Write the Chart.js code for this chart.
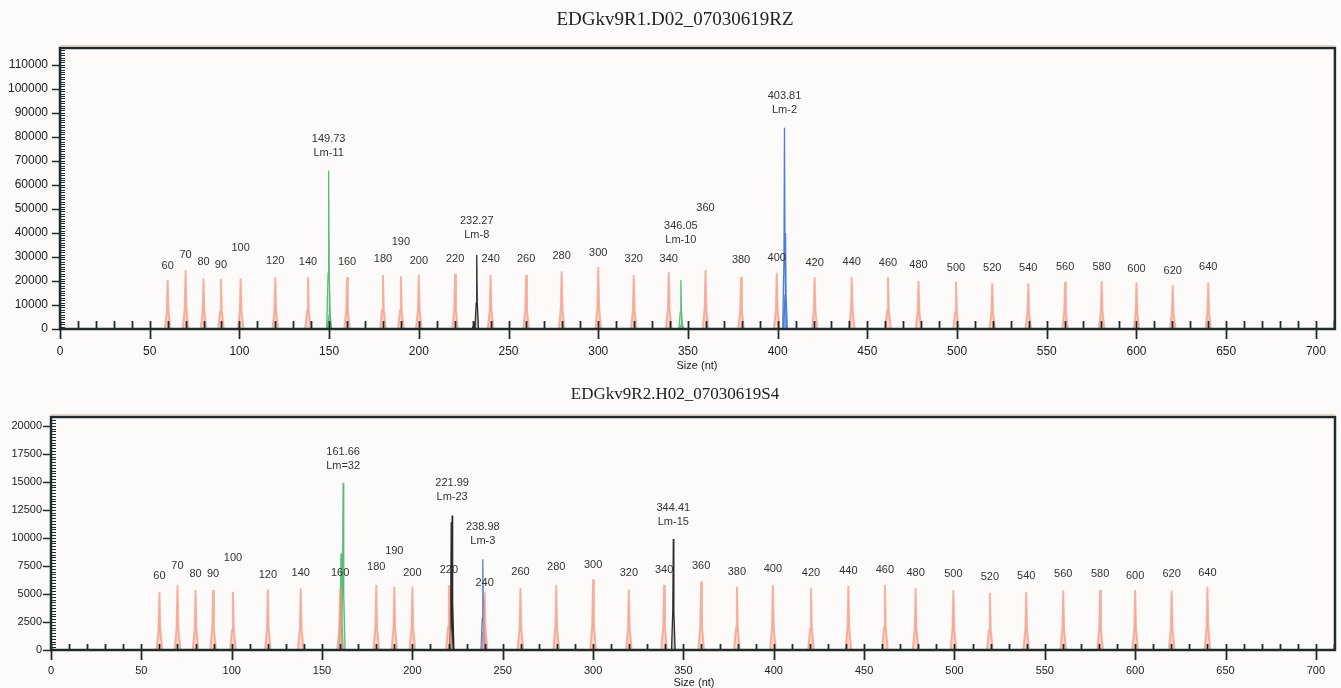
<!DOCTYPE html>
<html>
<head>
<meta charset="utf-8">
<script src="https://cdn.jsdelivr.net/npm/chart.js@4.4.0/dist/chart.umd.min.js"></script>
<style>
  html, body { margin: 0; padding: 0; background: #fdfbf9; }
  #wrap { position: relative; width: 1341px; height: 688px; }
  canvas { position: absolute; left: 0; }
</style>
</head>
<body>
<div id="wrap">
  <canvas id="run1" width="1341" height="375" style="top:0"></canvas>
  <canvas id="run2" width="1341" height="313" style="top:375px"></canvas>
</div>
<script>
// size standard peaks (orange), positions in nt
var stdSizes  = [60, 70, 80, 89.7, 100.7, 120, 138.2, 160, 180, 190, 200, 220.2, 240, 259.8, 279.6, 300, 319.8, 339.3, 359.8, 379.6, 399.5, 420.6, 441.3, 461.5, 478.5, 499.4, 519.6, 539.7, 560.2, 580.6, 600, 620.2, 640];
var stdLabels = ['60', '70', '80', '90', '100', '120', '140', '160', '180', '190', '200', '220', '240', '260', '280', '300', '320', '340', '360', '380', '400', '420', '440', '460', '480', '500', '520', '540', '560', '580', '600', '620', '640'];

// axis tick labels
var xTicks = [0, 50, 100, 150, 200, 250, 300, 350, 400, 450, 500, 550, 600, 650, 700];
var y1Ticks = [0, 10000, 20000, 30000, 40000, 50000, 60000, 70000, 80000, 90000, 100000, 110000];
var y2Ticks = [0, 2500, 5000, 7500, 10000, 12500, 15000, 17500, 20000];

// run 1 (EDGkv9R1.D02_07030619RZ)
var std1Heights = [20400, 24600, 21000, 20800, 21000, 21600, 21600, 21600, 22500, 22000, 22500, 23000, 22500, 22500, 24000, 25800, 22500, 23700, 24600, 21600, 23300, 21600, 21600, 21600, 20000, 19700, 19000, 19000, 19700, 20000, 19300, 18300, 19300];
var std1LabelY  = [26250, 30800, 27900, 26700, 33750, 28300, 27900, 27900, 29200, 36250, 28300, 29200, 29200, 29200, 30400, 31700, 29200, 29200, 50400, 28750, 29600, 27500, 27900, 27500, 26700, 25400, 25400, 25400, 25800, 25800, 25000, 24200, 25800];
var green1Sizes = [149.73, 150.3, 346.05, 346.6];
var green1Heights = [66000, 16000, 20400, 5000];
var black1Sizes = [230.6, 232.27];
var black1Heights = [3000, 30800];
var blue1Sizes = [403.81, 404.4];
var blue1Heights = [83800, 40000];
var call1Sizes = [149.73, 232.27, 346.05, 403.81];
var call1Names = ['Lm-11', 'Lm-8', 'Lm-10', 'Lm-2'];
var call1LabelY = [73300, 39200, 37100, 91250];

// run 2 (EDGkv9R2.H02_07030619S4)
var std2Heights = [5200, 5800, 5360, 5360, 5200, 5400, 5500, 5500, 5800, 5650, 5650, 5800, 5200, 5500, 5800, 6300, 5400, 5800, 6100, 5650, 5800, 5500, 5700, 5800, 5500, 5360, 5100, 5200, 5300, 5360, 5360, 5300, 5650];
var std2LabelY  = [6600, 7500, 6800, 6800, 8200, 6700, 6900, 6900, 7400, 8800, 6900, 7100, 6000, 7000, 7400, 7600, 6900, 7100, 7500, 7000, 7200, 6900, 7050, 7100, 6900, 6800, 6500, 6600, 6800, 6800, 6600, 6800, 6900];
var green2Sizes = [160.5, 161.66];
var green2Heights = [8600, 14900];
var black2Sizes = [221.5, 221.99, 344.41];
var black2Heights = [11400, 12000, 9900];
var blue2Sizes = [238.98, 239.5];
var blue2Heights = [8100, 4500];
var call2Sizes = [161.66, 221.99, 238.98, 344.41];
var call2Names = ['Lm=32', 'Lm-23', 'Lm-3', 'Lm-15'];
var call2LabelY = [16430, 13660, 9730, 11430];

var SANS = '"Liberation Sans", Arial, sans-serif';
var SERIF = '"Liberation Serif", "Times New Roman", serif';

// turn (size, height) pairs into peak outlines, one segment per peak
function peakPoints(sizes, heights, hw) {
  var pts = [];
  for (var i = 0; i < sizes.length; i++) {
    var s = sizes[i], h = heights[i];
    pts.push({x: s - hw, y: 0});
    pts.push({x: s - hw * 0.3, y: h * 0.35});
    pts.push({x: s, y: h});
    pts.push({x: s + hw * 0.3, y: h * 0.35});
    pts.push({x: s + hw, y: 0});
    pts.push({x: s + hw, y: null});
  }
  return pts;
}

function peakSet(pts, line, fill, width) {
  return {
    data: pts, borderColor: line, backgroundColor: fill, borderWidth: width,
    fill: 'origin', pointRadius: 0, tension: 0, spanGaps: false
  };
}

// frame, tick marks and all annotation text
var electroPlugin = {
  id: 'electro',
  afterDatasetsDraw: function(chart, args, o) {
    var ctx = chart.ctx, a = chart.chartArea, xs = chart.scales.x, ys = chart.scales.y;
    ctx.save();

    // peak size labels
    ctx.fillStyle = '#333';
    ctx.textAlign = 'center';
    ctx.textBaseline = 'middle';
    ctx.font = o.labelFont + 'px ' + SANS;
    for (var i = 0; i < stdSizes.length; i++) {
      ctx.fillText(stdLabels[i], xs.getPixelForValue(stdSizes[i]), ys.getPixelForValue(o.stdLabelY[i]));
    }
    for (var j = 0; j < o.callSizes.length; j++) {
      var cx = xs.getPixelForValue(o.callSizes[j]);
      var cy = ys.getPixelForValue(o.callLabelY[j]);
      ctx.fillText(o.callSizes[j].toFixed(2), cx, cy - o.lineGap);
      ctx.fillText(o.callNames[j], cx, cy);
    }

    // frame
    ctx.strokeStyle = 'rgba(240,150,120,0.45)';
    ctx.lineWidth = 1;
    ctx.beginPath();
    ctx.moveTo(a.left, a.top - 2.5); ctx.lineTo(a.right, a.top - 2.5);
    ctx.stroke();
    ctx.strokeStyle = '#1f2c2f';
    ctx.lineWidth = 2.5;
    ctx.beginPath();
    ctx.moveTo(a.left, a.bottom); ctx.lineTo(a.left, a.top);
    ctx.lineTo(a.right, a.top); ctx.lineTo(a.right, a.bottom);
    ctx.closePath();
    ctx.stroke();

    // x ticks: minor every 10 above the axis, major every 50 across it
    ctx.lineWidth = 1.8;
    ctx.beginPath();
    for (var k = 0; k * 10 <= xs.max; k++) {
      var px = Math.round(xs.getPixelForValue(k * 10)) + 0.5;
      ctx.moveTo(px, a.bottom - o.tickUp);
      ctx.lineTo(px, k % 5 === 0 ? a.bottom + o.tickDown : a.bottom);
    }
    ctx.stroke();

    // y ticks: major outward, dense minor inward
    ctx.lineWidth = 1.5;
    ctx.beginPath();
    ys.ticks.forEach(function(t) {
      var py = Math.round(ys.getPixelForValue(t.value)) + 0.5;
      ctx.moveTo(a.left - o.yTickOut, py); ctx.lineTo(a.left, py);
    });
    ctx.stroke();
    ctx.lineWidth = 1;
    ctx.beginPath();
    for (var n = 0; n * o.yMinor <= ys.max; n++) {
      var qy = Math.round(ys.getPixelForValue(n * o.yMinor)) + 0.5;
      ctx.moveTo(a.left, qy); ctx.lineTo(a.left + 5, qy);
    }
    ctx.stroke();

    // titles
    ctx.fillStyle = '#222';
    ctx.font = o.titleSize + 'px ' + SERIF;
    ctx.fillText(o.title, o.titleX, o.titleY);
    ctx.font = '11px ' + SANS;
    ctx.fillText('Size (nt)', o.axisTitleX, o.axisTitleY);
    ctx.restore();
  }
};

function makePanel(id, p) {
  var datasets = [
    peakSet(peakPoints(stdSizes, p.stdHeights, 1.6), 'rgba(244,150,125,0.7)', 'rgba(247,178,155,0.5)', 2),
    peakSet(peakPoints(p.greenSizes, p.greenHeights, 1.1), 'rgba(80,185,115,0.95)', 'rgba(120,205,140,0.35)', 1.3),
    peakSet(peakPoints(p.blackSizes, p.blackHeights, 1.0), 'rgba(35,35,35,0.95)', 'rgba(60,60,60,0.3)', 1.3),
    peakSet(peakPoints(p.blueSizes, p.blueHeights, 1.0), 'rgba(70,120,215,0.95)', 'rgba(110,150,225,0.35)', 1.3)
  ];
  return new Chart(document.getElementById(id), {
    type: 'line',
    data: { datasets: datasets },
    options: {
      responsive: false,
      animation: false,
      layout: { padding: { top: p.top, right: 1341 - p.right, left: 0, bottom: 0 } },
      plugins: {
        legend: { display: false },
        tooltip: { enabled: false },
        electro: {
          title: p.title, titleSize: p.titleSize, titleX: 675, titleY: 20,
          axisTitleX: p.axisTitleX, axisTitleY: p.axisTitleY,
          stdLabelY: p.stdLabelY, callSizes: p.callSizes, callNames: p.callNames, callLabelY: p.callLabelY,
          labelFont: 11, lineGap: 14,
          tickUp: p.tickUp, tickDown: 10, yTickOut: 8, yMinor: p.yMinor
        }
      },
      scales: {
        x: {
          type: 'linear', min: 0, max: 710.6,
          grid: { display: false, drawTicks: false },
          border: { display: false },
          ticks: { maxRotation: 0, autoSkip: false, padding: p.xPad, color: '#222',
                   font: { family: SANS, size: p.tickFont } },
          afterBuildTicks: function(s) { s.ticks = xTicks.map(function(v) { return {value: v}; }); },
          afterFit: function(s) { s.height = p.h - p.bottom; }
        },
        y: {
          min: 0, max: p.yMax,
          grid: { display: false, drawTicks: false },
          border: { display: false },
          ticks: { autoSkip: false, padding: p.yPad, color: '#222',
                   font: { family: SANS, size: p.tickFont },
                   callback: function(v) { return String(v); } },
          afterBuildTicks: function(s) { s.ticks = p.yTicks.map(function(v) { return {value: v}; }); },
          afterFit: function(s) { s.width = p.left; }
        }
      }
    },
    plugins: [electroPlugin]
  });
}

makePanel('run1', {
  h: 375, left: 60, right: 1335, top: 48, bottom: 329,
  yMax: 117000, yTicks: y1Ticks, yMinor: 1000, xPad: 15, yPad: 12, tickFont: 12, tickUp: 8,
  title: 'EDGkv9R1.D02_07030619RZ', titleSize: 19, axisTitleX: 697, axisTitleY: 366,
  stdHeights: std1Heights, stdLabelY: std1LabelY,
  greenSizes: green1Sizes, greenHeights: green1Heights,
  blackSizes: black1Sizes, blackHeights: black1Heights,
  blueSizes: blue1Sizes, blueHeights: blue1Heights,
  callSizes: call1Sizes, callNames: call1Names, callLabelY: call1LabelY
});

makePanel('run2', {
  h: 313, left: 51, right: 1335, top: 42, bottom: 275,
  yMax: 20780, yTicks: y2Ticks, yMinor: 250, xPad: 14, yPad: 9, tickFont: 11, tickUp: 6,
  title: 'EDGkv9R2.H02_07030619S4', titleSize: 17, axisTitleX: 694, axisTitleY: 308,
  stdHeights: std2Heights, stdLabelY: std2LabelY,
  greenSizes: green2Sizes, greenHeights: green2Heights,
  blackSizes: black2Sizes, blackHeights: black2Heights,
  blueSizes: blue2Sizes, blueHeights: blue2Heights,
  callSizes: call2Sizes, callNames: call2Names, callLabelY: call2LabelY
});
</script>
</body>
</html>
